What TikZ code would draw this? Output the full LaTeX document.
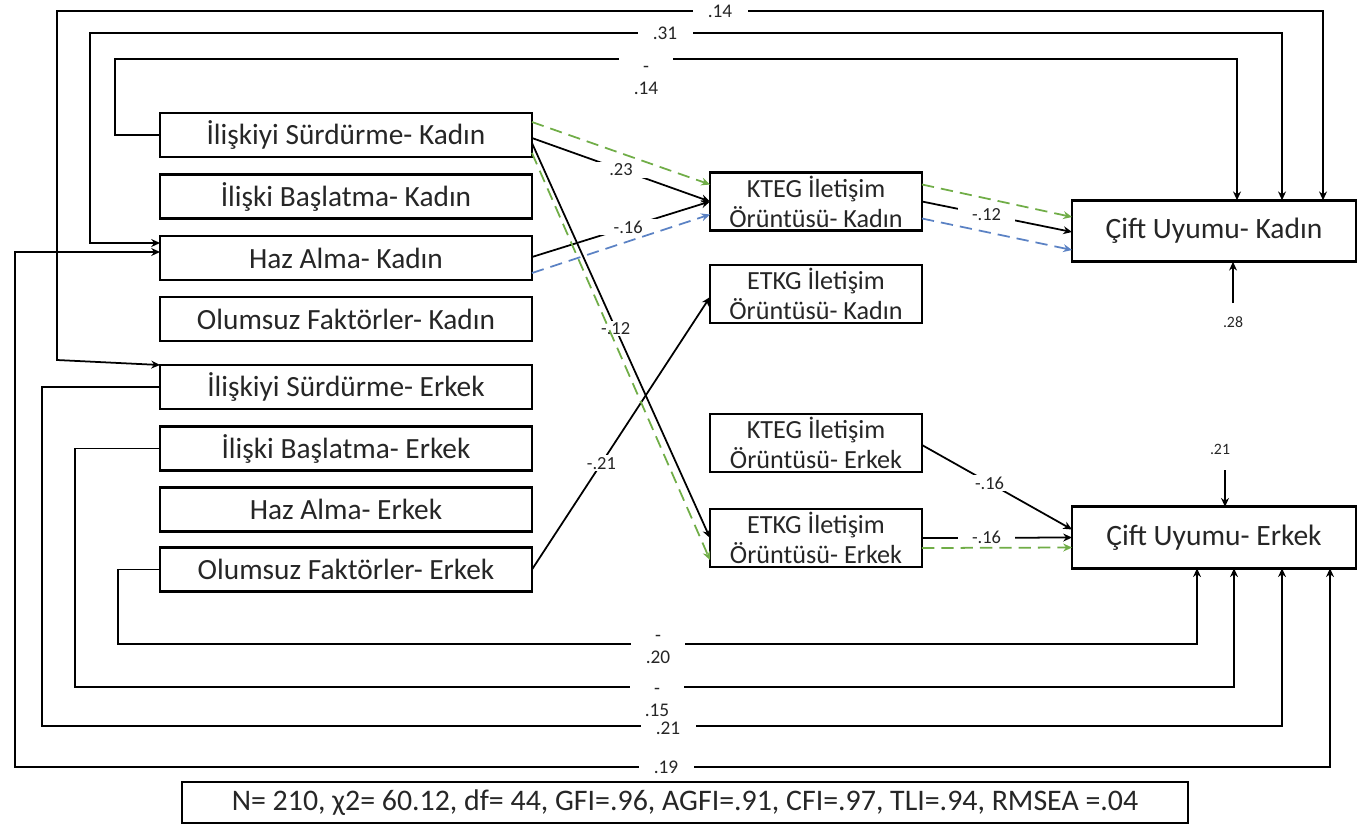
\documentclass[tikz,border=0pt]{standalone}
\usepackage{fontspec}
\setmainfont{Carlito}
\usetikzlibrary{arrows.meta,calc}
\definecolor{dgreen}{RGB}{112,173,71}
\definecolor{dblue}{RGB}{91,130,196}
\definecolor{txt}{RGB}{38,38,38}
\begin{document}
\begin{tikzpicture}[x=0.02cm,y=-0.02cm,
  box/.style={draw,line width=1.5pt,inner sep=0pt,outer sep=0pt,align=center,text=txt},
  lbox/.style={box,minimum width=7.44cm,minimum height=0.88cm,font=\fontsize{16.7}{19}\selectfont},
  mbox/.style={box,minimum width=4.24cm,minimum height=1.16cm,font=\fontsize{14.9}{17}\selectfont},
  rbox/.style={box,minimum width=5.68cm,minimum height=1.23cm,font=\fontsize{16.8}{19}\selectfont},
  tip/.tip={Stealth[length=5pt,width=4.5pt]},
  conn/.style={line width=1pt,-tip},
  conn2/.style={line width=1pt,tip-tip},
  gconn/.style={conn,draw=dgreen,dash pattern=on 7pt off 4pt},
  bconn/.style={conn,draw=dblue,dash pattern=on 7pt off 4pt},
  lbl/.style={fill=white,text=txt,inner xsep=8pt,inner ysep=1pt,font=\fontsize{10.5}{12.5}\selectfont},
  hlbl/.style={lbl,inner xsep=0pt,minimum width=1.1cm,font=\fontsize{11}{12.5}\selectfont},
  stack/.style={fill=white,text=txt,align=center,inner xsep=0pt,inner ysep=0pt,minimum width=1.08cm,minimum height=0.9cm,font=\fontsize{11}{12.5}\selectfont},
  rlbl/.style={text=txt,inner sep=1pt,font=\fontsize{9}{10}\selectfont}
]
\useasboundingbox (0,0) rectangle (1364,829);

% left boxes
\node[lbox] (L1) at (346,135) {İlişkiyi Sürdürme- Kadın};
\node[lbox] (L2) at (346,196.5) {İlişki Başlatma- Kadın};
\node[lbox] (L3) at (346,258) {Haz Alma- Kadın};
\node[lbox] (L4) at (346,319) {Olumsuz Faktörler- Kadın};
\node[lbox] (L5) at (346,387) {İlişkiyi Sürdürme- Erkek};
\node[lbox] (L6) at (346,448.5) {İlişki Başlatma- Erkek};
\node[lbox] (L7) at (346,509.5) {Haz Alma- Erkek};
\node[lbox] (L8) at (346,569.5) {Olumsuz Faktörler- Erkek};

% middle boxes
\node[mbox] (KK) at (816,201.5) {KTEG İletişim\\Örüntüsü- Kadın};
\node[mbox] (EK) at (816,294) {ETKG İletişim\\Örüntüsü- Kadın};
\node[mbox] (KE) at (816,443) {KTEG İletişim\\Örüntüsü- Erkek};
\node[mbox] (EE) at (816,538) {ETKG İletişim\\Örüntüsü- Erkek};

% right boxes
\node[rbox] (CK) at (1214,231) {Çift Uyumu- Kadın};
\node[rbox] (CE) at (1214,537.5) {Çift Uyumu- Erkek};

% fit box
\node[draw,line width=0.8pt,inner sep=0pt,minimum width=20.12cm,minimum height=0.82cm,text=txt,font=\fontsize{17}{19}\selectfont] (fit) at (685,802.5) {N= 210, χ2= 60.12, df= 44, GFI=.96, AGFI=.91, CFI=.97, TLI=.94, RMSEA =.04};

% middle connectors
\draw[conn] ($(L1.east)+(0,3)$) -- node[lbl,pos=0.5]{.23} (KK.west);
\draw[gconn] ($(L1.east)+(0,-13)$) -- ($(KK.west)+(0,-17)$);
\draw[conn] ($(L3.east)+(0,-1)$) -- node[lbl,pos=0.54]{-.16} (KK.west);
\draw[bconn] ($(L3.east)+(0,15)$) -- ($(KK.west)+(0,13)$);
\draw[conn] (L8.east) -- node[lbl,pos=0.39]{-.21} ($(EK.west)+(0,3)$);
\draw[conn] ($(L1.east)+(0,8)$) -- node[lbl,pos=0.47]{-.12} (EE.west);
\draw[gconn] ($(L1.east)+(0,18)$) -- ($(EE.west)+(0,22)$);

% right connectors
\draw[conn] (KK.east) -- node[lbl,pos=0.43]{-.12} ($(CK.west)+(0,1)$);
\draw[gconn] ($(KK.east)+(0,-17)$) -- ($(CK.west)+(0,-14)$);
\draw[bconn] ($(KK.east)+(0,17)$) -- ($(CK.west)+(0,19)$);
\draw[conn] ($(KE.east)+(0,2)$) -- node[lbl,pos=0.45]{-.16} ($(CE.west)+(0,-8)$);
\draw[conn] (EE.east) -- node[lbl,pos=0.43]{-.16} (CE.west);
\draw[gconn] ($(EE.east)+(0,10)$) -- ($(CE.west)+(0,10)$);

% top loops
\draw[conn2] (L5.north west) -- (57,360) -- (57,11) -- (1323,11) -- ($(CK.north)+(109,0)$);
\draw[conn2] ($(L3.west)+(0,-15)$) -| (90,33) -- (1282,33) -- ($(CK.north)+(68,0)$);
\draw[conn] (L1.west) -| (115,59) -- (1237,59) -- ($(CK.north)+(23,0)$);
\node[hlbl] at (720,11) {.14};
\node[hlbl] at (665,33) {.31};
\node[stack] at (646,79) {\strut-\\\strut.14};

% bottom loops
\draw[conn] (L8.west) -| (118,644) -- (1197,644) -- ($(CE.south)+(-17,0)$);
\draw[conn] (L6.west) -| (75,687) -- (1234,687) -- ($(CE.south)+(20,0)$);
\draw[conn] (L5.west) -| (42,726) -- (1282,726) -- ($(CE.south)+(68,0)$);
\draw[conn2] ($(L3.west)+(0,-6)$) -| (15,767) -- (1330,767) -- ($(CE.south)+(116,0)$);
\node[stack] at (658,648) {\strut-\\\strut.20};
\node[stack] at (657,701) {\strut-\\\strut.15};
\node[hlbl] at (668,728) {.21};
\node[hlbl] at (666,767) {.19};

% residuals
\node[rlbl] (r28) at (1233,322) {.28};
\draw[conn] ($(r28)+(0,-19)$) -- (r28 |- CK.south);
\node[rlbl] (r21) at (1220,449) {.21};
\draw[conn] ($(r21)+(5,21)$) -- ($(r21 |- CE.north)+(5,0)$);
\end{tikzpicture}
\end{document}
